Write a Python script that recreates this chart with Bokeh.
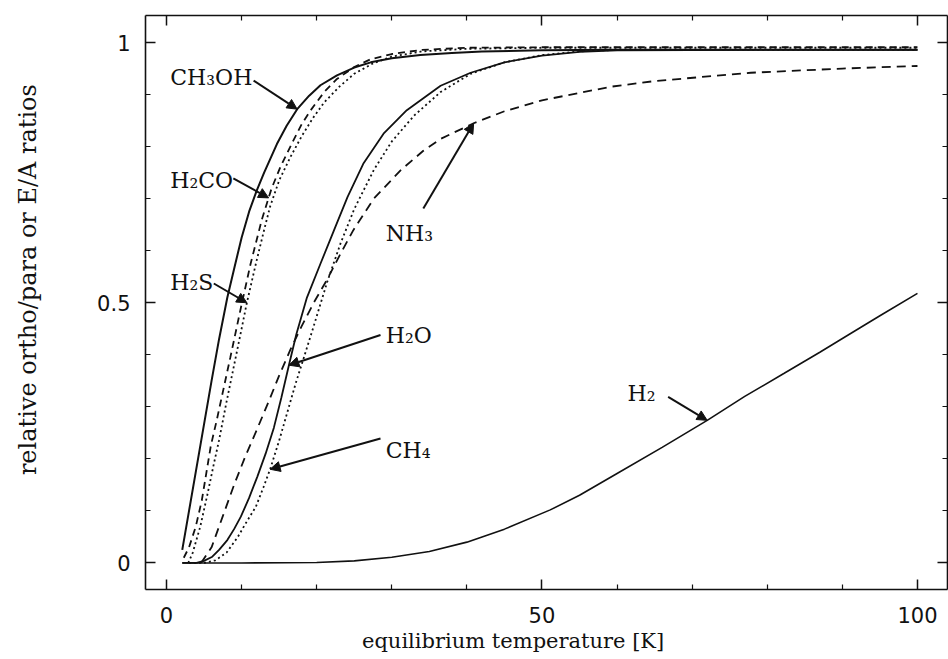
import numpy as np
from bokeh.plotting import figure
from bokeh.models import Range1d, LinearAxis, FixedTicker, Arrow, NormalHead, Label, ColumnDataSource
from bokeh.embed import file_html
from bokeh.resources import INLINE

# ---------------- data ----------------
ch3oh_x = [2.1, 3.0, 4.5, 6.0, 7.0, 8.1, 9.0, 10.0, 11.0, 12.0, 13.0, 14.7, 16.0, 17.4, 19.0, 20.5,
           22.7, 25.0, 27.2, 30.0, 33.8, 38.0, 42.0, 50.0, 60.0, 80.0, 100.0]
ch3oh_y = [0.025, 0.10, 0.225, 0.35, 0.43, 0.51, 0.565, 0.625, 0.675, 0.715, 0.75, 0.805, 0.84, 0.872,
           0.898, 0.918, 0.937, 0.952, 0.962, 0.970, 0.976, 0.980, 0.983, 0.985, 0.986, 0.986, 0.986]

h2co_x = [2.3, 3.0, 3.9, 4.7, 5.9, 6.7, 7.6, 8.5, 9.9, 11.2, 12.7, 14.0, 15.2, 16.9, 18.0, 19.2, 21.0,
          22.7, 25.0, 27.2, 30.0, 34.0, 40.0, 50.0, 70.0, 100.0]
h2co_y = [0.01, 0.03, 0.07, 0.12, 0.225, 0.275, 0.335, 0.395, 0.49, 0.575, 0.66, 0.72, 0.762, 0.812,
          0.843, 0.87, 0.905, 0.93, 0.953, 0.968, 0.978, 0.986, 0.99, 0.991, 0.991, 0.991]

h2s_x = [2.9, 3.5, 4.5, 5.5, 6.3, 7.0, 8.0, 9.0, 10.0, 10.7, 11.9, 13.0, 13.8, 15.0, 16.5, 18.0, 19.5,
         21.0, 23.0, 25.0, 27.5, 30.0, 34.0, 40.0, 50.0, 100.0]
h2s_y = [0.0, 0.02, 0.07, 0.135, 0.19, 0.236, 0.31, 0.38, 0.45, 0.50, 0.575, 0.64, 0.685, 0.735, 0.78,
         0.82, 0.855, 0.885, 0.915, 0.94, 0.96, 0.973, 0.983, 0.988, 0.99, 0.99]

h2o_x = [2.1, 4.0, 5.0, 6.1, 7.0, 8.1, 9.0, 9.9, 11.0, 12.1, 13.2, 14.3, 15.3, 16.3, 17.3, 18.7, 20.5,
         22.3, 24.1, 26.2, 28.9, 32.0, 36.5, 40.5, 45.0, 50.0, 55.0, 60.0, 80.0, 100.0]
h2o_y = [0.0, 0.0, 0.004, 0.012, 0.025, 0.044, 0.065, 0.089, 0.125, 0.166, 0.21, 0.26, 0.318, 0.38,
         0.44, 0.51, 0.575, 0.639, 0.703, 0.767, 0.825, 0.87, 0.917, 0.942, 0.962, 0.975, 0.982, 0.985,
         0.986, 0.986]

ch4_x = [3.0, 5.0, 6.5, 8.0, 9.5, 10.5, 11.9, 12.9, 13.8, 15.0, 16.1, 17.2, 18.3, 19.6, 21.4, 23.2,
         25.0, 27.6, 30.0, 33.0, 36.5, 40.5, 45.0, 50.0, 55.0, 60.0, 100.0]
ch4_y = [0.0, 0.0, 0.005, 0.02, 0.05, 0.075, 0.108, 0.145, 0.18, 0.235, 0.29, 0.345, 0.395, 0.455,
         0.54, 0.615, 0.68, 0.755, 0.81, 0.86, 0.905, 0.94, 0.962, 0.976, 0.983, 0.986, 0.986]

nh3_x = [4.6, 6.0, 7.5, 9.0, 10.5, 12.0, 13.6, 15.0, 16.5, 18.0, 19.6, 21.4, 23.2, 24.9, 27.6, 31.2,
         34.2, 36.5, 40.9, 45.0, 50.0, 59.1, 65.0, 77.8, 90.0, 100.0]
nh3_y = [0.0, 0.03, 0.09, 0.15, 0.205, 0.255, 0.31, 0.36, 0.41, 0.455, 0.5, 0.545, 0.595, 0.64, 0.7,
         0.755, 0.792, 0.815, 0.845, 0.868, 0.889, 0.915, 0.926, 0.942, 0.95, 0.955]

h2_x = [2.1, 10.0, 20.0, 25.0, 30.0, 35.0, 40.0, 45.0, 51.1, 55.0, 60.0, 66.0, 72.0, 77.0, 82.2, 87.0,
        91.1, 95.0, 100.0]
h2_y = [0.0, 0.0, 0.001, 0.004, 0.011, 0.022, 0.04, 0.065, 0.102, 0.13, 0.172, 0.222, 0.274, 0.32,
        0.364, 0.405, 0.441, 0.475, 0.518]

x_major = [0, 50, 100]
x_minor = [10, 20, 30, 40, 60, 70, 80, 90]
y_major = [0, 0.5, 1]
y_tick_labels = ["0", "0.5", "1"]
y_minor = [0.1, 0.2, 0.3, 0.4, 0.6, 0.7, 0.8, 0.9]

x_title = "equilibrium temperature [K]"
y_title = "relative ortho/para or E/A ratios"

NB = "\u00a0"

# ---------------- figure ----------------
p = figure(width=948, height=659, output_backend="svg", toolbar_location=None,
           x_range=Range1d(-2.796, 104.0), y_range=Range1d(-0.051, 1.052),
           min_border_left=145, min_border_right=1, min_border_top=15, min_border_bottom=70)
p.grid.visible = False
p.outline_line_color = None
p.background_fill_color = "white"
p.border_fill_color = "white"

INK = "#111111"
xt = FixedTicker(ticks=x_major, minor_ticks=x_minor)
yt = FixedTicker(ticks=y_major, minor_ticks=y_minor)


def style_axis(ax, show_labels=True):
    ax.axis_line_color = INK
    ax.axis_line_width = 1.6
    ax.major_tick_in = 10
    ax.major_tick_out = 0
    ax.minor_tick_in = 5
    ax.minor_tick_out = 0
    ax.major_tick_line_color = INK
    ax.minor_tick_line_color = INK
    ax.major_tick_line_width = 1.5
    ax.minor_tick_line_width = 1.2
    if show_labels:
        ax.major_label_text_font = "DejaVu Sans"
        ax.major_label_text_font_size = "21px"
        ax.major_label_text_color = INK
        ax.axis_label_text_font = "DejaVu Serif"
        ax.axis_label_text_font_style = "normal"
        ax.axis_label_text_color = INK
    else:
        ax.major_label_text_font_size = "0px"
        ax.major_label_text_alpha = 0
        ax.major_label_standoff = 0


xa = p.xaxis[0]
xa.ticker = xt
style_axis(xa)
xa.major_label_standoff = 17
xa.axis_label = x_title + NB * 10          # original title sits left of centre
xa.axis_label_text_font_size = "21px"
xa.axis_label_standoff = 3

ya = p.yaxis[0]
ya.ticker = yt
style_axis(ya)
ya.major_label_standoff = 15
ya.major_label_overrides = {v: s for v, s in zip(y_major, y_tick_labels)}
ya.axis_label = NB * 6 + y_title           # original title sits a little above centre
ya.axis_label_text_font_size = "24px"
ya.axis_label_standoff = 52

top = LinearAxis(ticker=xt)
style_axis(top, False)
p.add_layout(top, "above")
right = LinearAxis(ticker=yt)
style_axis(right, False)
p.add_layout(right, "right")

# ---------------- curves ----------------
p.line(ch3oh_x, ch3oh_y, line_color=INK, line_width=2.0)
p.line(h2co_x, h2co_y, line_color=INK, line_width=1.8, line_dash="7 5")
p.line(h2s_x, h2s_y, line_color=INK, line_width=1.8, line_dash="2 3")
p.line(h2o_x, h2o_y, line_color=INK, line_width=1.8)
p.line(ch4_x, ch4_y, line_color=INK, line_width=1.8, line_dash="2 3")
p.line(nh3_x, nh3_y, line_color=INK, line_width=1.8, line_dash="9 6")
p.line(h2_x, h2_y, line_color=INK, line_width=1.6)

# ---------------- labels & arrows ----------------
names = ["CH₃OH", "H₂CO", "H₂S", "NH₃", "H₂O", "CH₄", "H₂"]
label_x = [0.5, 0.5, 0.5, 29.2, 29.2, 29.2, 61.4]
label_y = [0.933, 0.735, 0.539, 0.633, 0.438, 0.217, 0.326]
tail_x = [11.6, 8.9, 6.3, 34.2, 28.5, 28.5, 66.8]
tail_y = [0.927, 0.739, 0.537, 0.681, 0.438, 0.239, 0.319]
tip_x = [17.4, 13.6, 10.7, 40.9, 16.3, 13.8, 72.0]
curves = [(ch3oh_x, ch3oh_y), (h2co_x, h2co_y), (h2s_x, h2s_y), (nh3_x, nh3_y),
          (h2o_x, h2o_y), (ch4_x, ch4_y), (h2_x, h2_y)]
tip_y = [float(np.interp(tx, cx, cy)) for tx, (cx, cy) in zip(tip_x, curves)]

for n, lx, ly in zip(names, label_x, label_y):
    p.add_layout(Label(x=lx, y=ly, text=n, text_font="DejaVu Serif", text_font_size="22px",
                       text_color=INK, text_align="left", text_baseline="alphabetic"))

src = ColumnDataSource(dict(x0=tail_x, y0=tail_y, x1=tip_x, y1=tip_y))
p.add_layout(Arrow(x_start="x0", y_start="y0", x_end="x1", y_end="y1", source=src,
                   line_color=INK, line_width=2,
                   end=NormalHead(size=10, fill_color=INK, line_color=INK, line_width=1)))

open("out.html", "w").write(file_html(p, INLINE))
